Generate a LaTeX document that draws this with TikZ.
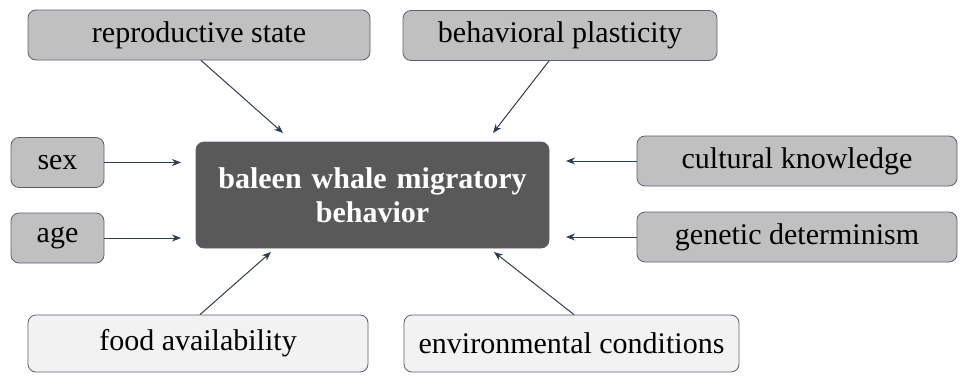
\documentclass[tikz,border=0pt]{standalone}
\usepackage{fontspec}
\setmainfont{Liberation Serif}
\usetikzlibrary{arrows.meta}
\definecolor{boxgray}{HTML}{C0C0C0}
\definecolor{boxlight}{HTML}{F2F2F2}
\definecolor{boxdark}{HTML}{595959}
\definecolor{edgecol}{HTML}{5A6070}
\definecolor{arrowcol}{HTML}{2F3B4E}
\tikzset{
  factor/.style={draw=edgecol, line width=0.8pt, rounded corners=8pt, fill=boxgray,
    minimum height=50pt, inner sep=0pt, font=\fontsize{30}{34}\selectfont},
  lightfactor/.style={factor, fill=boxlight},
  center/.style={draw=edgecol, line width=0.8pt, rounded corners=8pt, fill=boxdark,
    minimum width=353pt, minimum height=106pt, text width=340pt, align=center,
    text=white, font=\bfseries\fontsize{30}{34}\selectfont},
  link/.style={draw=arrowcol, line width=1pt, -{Stealth[length=9pt,width=7pt]}}
}
\begin{document}
\begin{tikzpicture}[x=1pt,y=-1pt]
\useasboundingbox (0,0) rectangle (967,383);
\node[center] (c) at (372.5,195) {baleen whale migratory\\behavior};
\node[factor, minimum width=342pt] (rep) at (199,35) {reproductive state};
\node[factor, minimum width=314pt] (beh) at (560,35.5) {behavioral plasticity};
\node[factor, minimum width=93pt] (sex) at (57.5,162.5) {sex};
\node[factor, minimum width=93pt] (age) at (57.5,238) {age};
\node[factor, minimum width=320pt] (cul) at (797,161) {cultural knowledge};
\node[factor, minimum width=320pt] (gen) at (797,237) {genetic determinism};
\node[lightfactor, minimum width=340pt, minimum height=57pt] (food) at (198,343.5) {food availability};
\node[lightfactor, minimum width=335pt, minimum height=57pt] (env) at (571.5,343.5) {environmental conditions};
\coordinate (trep) at (283,133);
\coordinate (tbeh) at (493,133);
\coordinate (tsex) at (181,162.5);
\coordinate (tage) at (181,238);
\coordinate (tcul) at (566,161);
\coordinate (tgen) at (566,237);
\coordinate (tfood) at (271,252);
\coordinate (tenv) at (494,252);
\draw[link] (rep.south) ++(2,0) coordinate (srep) -- (trep);
\draw[link] (beh.south) ++(-11,0) coordinate (sbeh) -- (tbeh);
\draw[link] (sex.east) -- (tsex);
\draw[link] (age.east) -- (tage);
\draw[link] (cul.west) -- (tcul);
\draw[link] (gen.west) -- (tgen);
\draw[link] (food.north) ++(2,0) coordinate (sfood) -- (tfood);
\draw[link] (env.north) ++(2.5,0) coordinate (senv) -- (tenv);
\end{tikzpicture}
\end{document}
